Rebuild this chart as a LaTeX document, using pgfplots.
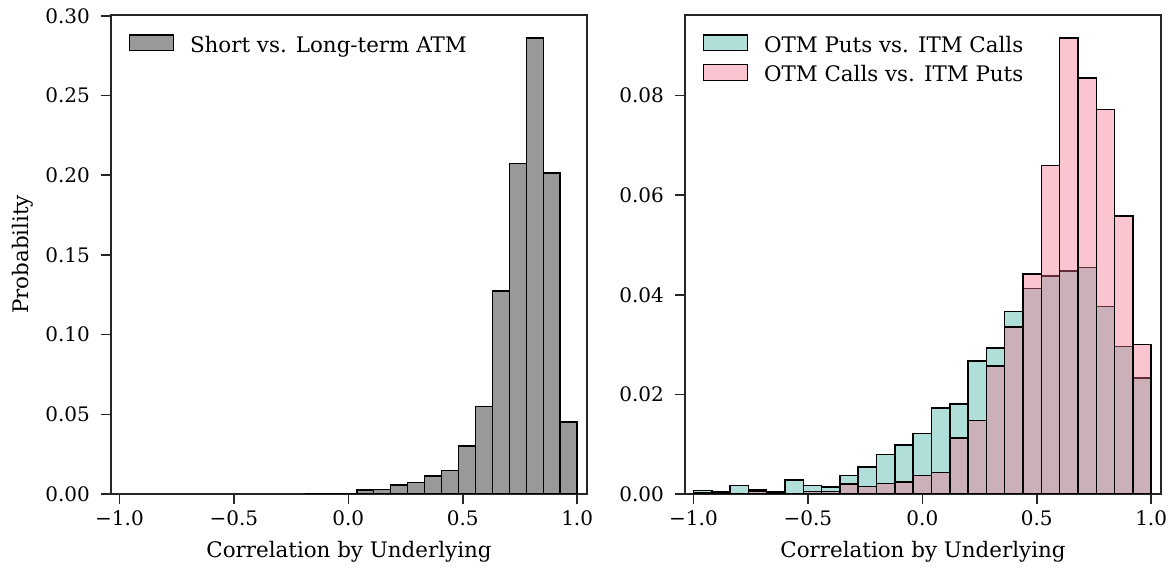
\documentclass[border=0pt]{standalone}
\usepackage{pgfplots}
\pgfplotsset{compat=1.18}
\usepackage{fontspec}
\setmainfont{DejaVu Serif}

\definecolor{spine}{RGB}{38,38,38}
\definecolor{histgray}{RGB}{153,153,153}
\definecolor{tealbase}{RGB}{58,173,160}
\definecolor{pinkbase}{RGB}{243,108,138}

% Short vs. long-term ATM: 27 equal bins on [-1,1]; last row closes the final bin
\pgfplotstableread{
x        p
-0.18519 0.0004
-0.11111 0.0004
-0.03704 0.0002
0.03704  0.0025
0.11111  0.0027
0.18519  0.0055
0.25926  0.0073
0.33333  0.0112
0.40741  0.0149
0.48148  0.0302
0.55556  0.0548
0.62963  0.1275
0.70370  0.2075
0.77778  0.2863
0.85185  0.2013
0.92593  0.0451
1.00000  0
}\atmtable

% OTM puts vs. ITM calls and OTM calls vs. ITM puts: 25 bins of width 0.08
\pgfplotstableread{
x      puts   calls
-1.00  0.0007 0.0002
-0.92  0.0004 0.0002
-0.84  0.0017 0.0000
-0.76  0.0008 0.0005
-0.68  0.0004 0.0002
-0.60  0.0028 0.0000
-0.52  0.0017 0.0005
-0.44  0.0014 0.0005
-0.36  0.0037 0.0020
-0.28  0.0054 0.0015
-0.20  0.0079 0.0021
-0.12  0.0098 0.0024
-0.04  0.0122 0.0037
0.04   0.0173 0.0043
0.12   0.0181 0.0112
0.20   0.0267 0.0148
0.28   0.0293 0.0257
0.36   0.0367 0.0335
0.44   0.0413 0.0442
0.52   0.0438 0.0660
0.60   0.0448 0.0916
0.68   0.0455 0.0835
0.76   0.0377 0.0772
0.84   0.0296 0.0558
0.92   0.0233 0.0300
1.00   0      0
}\otmtable

\pgfplotsset{
  panel/.style={
    scale only axis,
    width=238pt, height=239.5pt,
    xmin=-1.037, xmax=1.043, ymin=0,
    axis line style={spine, line width=1.3pt},
    every tick/.style={spine, line width=0.8pt},
    major tick length=5pt,
    tick align=outside,
    xtick pos=bottom, ytick pos=left,
    xtick={-1,-0.5,0,0.5,1},
    xticklabels={−1.0,−0.5,0.0,0.5,1.0},
    ticklabel style={font=\fontsize{10}{12}\selectfont},
    yticklabel style={xshift=-2pt, /pgf/number format/.cd, fixed, fixed zerofill, precision=2, assume math mode=true},
    scaled y ticks=false,
    xlabel={Correlation by Underlying},
    xlabel style={at={(axis description cs:0.5,0)}, anchor=base, yshift=-32pt, font=\fontsize{10.7}{12}\selectfont},
    legend cell align=left,
    legend image code/.code={
      \draw[##1, draw=black, line width=0.6pt] (0pt,-2pt) rectangle (22pt,5.8pt);
    },
    legend style={at={(0,1)}, anchor=north west, xshift=8.7pt, yshift=-9.5pt,
      draw=none, fill=none, inner sep=0pt, column sep=8pt, row sep=4pt,
      font=\fontsize{10.7}{12}\selectfont,
      nodes={inner sep=0pt, text height=7.5pt, text depth=2pt}},
    bar/.style={ybar interval, draw=black, line width=0.75pt},
  }
}

\begin{document}
\begin{tikzpicture}
\useasboundingbox (0,0) rectangle (588pt,286pt);

\begin{axis}[panel, at={(55.5pt,39pt)}, anchor=south west,
    ymax=0.3006, ytick={0,0.05,0.10,0.15,0.20,0.25,0.30},
    ylabel={Probability},
    ylabel style={at={([xshift=-41pt]axis description cs:0,0.5)}, anchor=base, font=\fontsize{10.7}{12}\selectfont}]
  \addplot[bar, fill=histgray] table[x=x, y=p] {\atmtable};
  \addlegendentry{Short vs. Long-term ATM}
\end{axis}

\begin{axis}[panel, at={(342.5pt,39pt)}, anchor=south west,
    ymax=0.0962, ytick={0,0.02,0.04,0.06,0.08}]
  \addplot[bar, fill=tealbase, fill opacity=0.4] table[x=x, y=puts] {\otmtable};
  \addlegendentry{OTM Puts vs. ITM Calls}
  \addplot[bar, fill=pinkbase, fill opacity=0.4] table[x=x, y=calls] {\otmtable};
  \addlegendentry{OTM Calls vs. ITM Puts}
\end{axis}
\end{tikzpicture}
\end{document}
